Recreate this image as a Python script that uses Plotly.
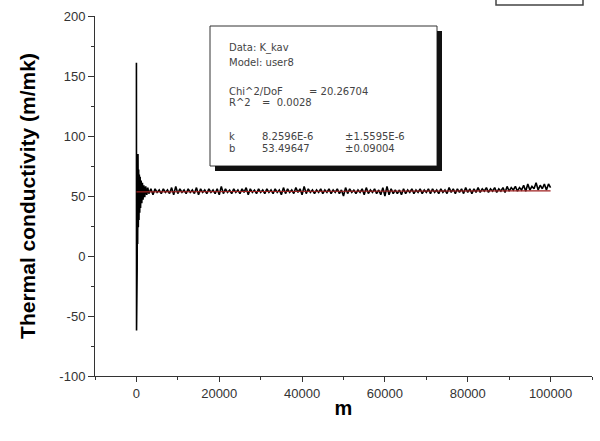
import plotly.graph_objects as go

# ---- data ----
spike_x = [0, 30, 60, 90, 130, 180, 240, 300, 380, 460, 540, 620, 700, 800, 900, 1000,
           1150, 1300, 1450, 1600, 1800, 2000, 2250, 2500, 2750]
spike_y = [161, -62, 140, -50, 92, -10, 80, 10, 85, 24, 72, 30, 68, 36, 66, 40,
           63, 44, 61, 47, 59, 49, 58, 51, 57]

band_y = [
    52, 56, 51, 56, 53, 55, 52, 56, 53, 55,
    52, 57, 51, 58, 52, 56, 53, 55, 52, 56,
    53, 55, 52, 57, 51, 56, 53, 55, 52, 56,
    53, 55, 52, 56, 51, 58, 52, 56, 53, 55,
    52, 56, 53, 55, 52, 56, 53, 57, 51, 56,
    53, 55, 52, 56, 53, 55, 52, 56, 53, 55,
    52, 56, 53, 55, 51, 57, 52, 56, 53, 55,
    52, 57, 53, 56, 51, 58, 52, 56, 53, 55,
    52, 55, 53, 56, 52, 55, 53, 56, 52, 55,
    53, 56, 52, 55, 50, 57, 52, 56, 53, 55,
    52, 55, 53, 56, 51, 57, 52, 55, 53, 56,
    52, 55, 51, 57, 50, 58, 51, 56, 52, 55,
    52, 55, 51, 56, 52, 55, 53, 56, 52, 55,
    53, 56, 52, 55, 53, 56, 52, 56, 53, 55,
    52, 56, 53, 55, 52, 57, 53, 56, 52, 56,
    53, 56, 52, 57, 53, 56, 52, 56, 53, 57,
    53, 56, 54, 57, 53, 56, 54, 57, 53, 56,
    54, 57, 53, 58, 54, 57, 55, 58, 54, 57,
    55, 59, 54, 60, 55, 58, 56, 61, 55, 59,
    56, 60, 55, 60, 57,
]
band_x = [3000 + 500 * i for i in range(len(band_y))]

fit_x = [0, 100000]
fit_y = [53.49647, 54.32243]

x_all = spike_x + band_x
y_all = spike_y + band_y

fig = go.Figure()
fig.add_trace(go.Scatter(x=x_all, y=y_all, mode="lines",
                         line=dict(color="black", width=1.6), showlegend=False))
fig.add_trace(go.Scatter(x=fit_x, y=fit_y, mode="lines",
                         line=dict(color="#a02020", width=1.2), showlegend=False))

PL, PR, PT, PB = 95, 592, 16, 376   # plot area in page pixels
W, H = 600, 441
pw, ph = PR - PL, PB - PT


def px(xp):
    return (xp - PL) / pw


def py(yp):
    return (PB - yp) / ph


shapes = []
# text box
shapes.append(dict(type="rect", xref="paper", yref="paper", layer="above",
                   x0=px(210), x1=px(437), y0=py(166), y1=py(26),
                   fillcolor="white", line=dict(color="#333", width=1)))
# drop shadow as thick lines (right and bottom)
shapes.append(dict(type="line", xref="paper", yref="paper", layer="above",
                   x0=px(439.5), x1=px(439.5), y0=py(31), y1=py(171),
                   line=dict(color="#111111", width=5)))
shapes.append(dict(type="line", xref="paper", yref="paper", layer="above",
                   x0=px(215), x1=px(442), y0=py(168.5), y1=py(168.5),
                   line=dict(color="#111111", width=5)))
# partially visible box at top right
shapes.append(dict(type="path", xref="paper", yref="paper", layer="above",
                   path=(f"M {px(496)} {py(-2)} L {px(496)} {py(5)} "
                         f"L {px(583)} {py(5)} L {px(583)} {py(-2)}"),
                   line=dict(color="#444", width=1.5)))

annotations = []
tf = dict(family="DejaVu Sans, sans-serif", size=10, color="#444")


def txt(x, y, s):
    annotations.append(dict(xref="paper", yref="paper", x=px(x), y=py(y), text=s,
                            showarrow=False, xanchor="left", yanchor="middle", font=tf,
                            xshift=-2))


txt(229, 48, "Data: K_kav")
txt(229, 63, "Model: user8")
txt(229, 91, "Chi^2/DoF")
txt(309, 91, "= 20.26704")
txt(229, 102, "R^2")
txt(262, 102, "=  0.0028")
txt(229, 136, "k")
txt(262, 136, "8.2596E-6")
txt(345, 136, "±1.5595E-6")
txt(229, 148, "b")
txt(262, 148, "53.49647")
txt(345, 148, "±0.09004")

axis_font = dict(family="Liberation Sans, Arial, sans-serif", size=13, color="#333")
title_font = dict(family="Liberation Sans, Arial, sans-serif", size=21, color="black")

x_ticks = [0, 20000, 40000, 60000, 80000, 100000]
x_labels = ["0", "20000", "40000", "60000", "80000", "100000"]
y_ticks = [-100, -50, 0, 50, 100, 150, 200]
y_labels = ["-100", "-50", "0", "50", "100", "150", "200"]

fig.update_layout(
    width=W, height=H,
    margin=dict(l=PL, r=W - PR, t=PT, b=H - PB),
    paper_bgcolor="white", plot_bgcolor="white",
    shapes=shapes, annotations=annotations,
    xaxis=dict(range=[-10000, 110000], tickvals=x_ticks, ticktext=x_labels,
               automargin=False,
               ticks="outside", ticklen=5, tickcolor="#333", showline=True,
               linecolor="#333", linewidth=1, showgrid=False, zeroline=False,
               tickfont=axis_font,
               minor=dict(tickvals=[-10000, 10000, 30000, 50000, 70000, 90000, 110000],
                          ticks="outside", ticklen=3, tickcolor="#333"),
               title=dict(text="<b>m</b>", font=dict(family="Liberation Sans, Arial, sans-serif",
                                                      size=20, color="black"), standoff=1)),
    yaxis=dict(range=[-100, 200], tickvals=y_ticks, ticktext=y_labels,
               automargin=False,
               ticks="outside", ticklen=6, tickcolor="#333", showline=True,
               linecolor="#333", linewidth=1, showgrid=False, zeroline=False,
               tickfont=axis_font,
               minor=dict(tickvals=[-75, -25, 25, 75, 125, 175],
                          ticks="outside", ticklen=3, tickcolor="#333"),
               title=dict(text="<b>Thermal conductivity (m/mk)</b>", font=title_font,
                          standoff=18)),
)

fig.write_html("out.html",
               config={"displayModeBar": False},
               post_script="document.body.style.margin='0px';document.body.style.overflow='hidden';")
